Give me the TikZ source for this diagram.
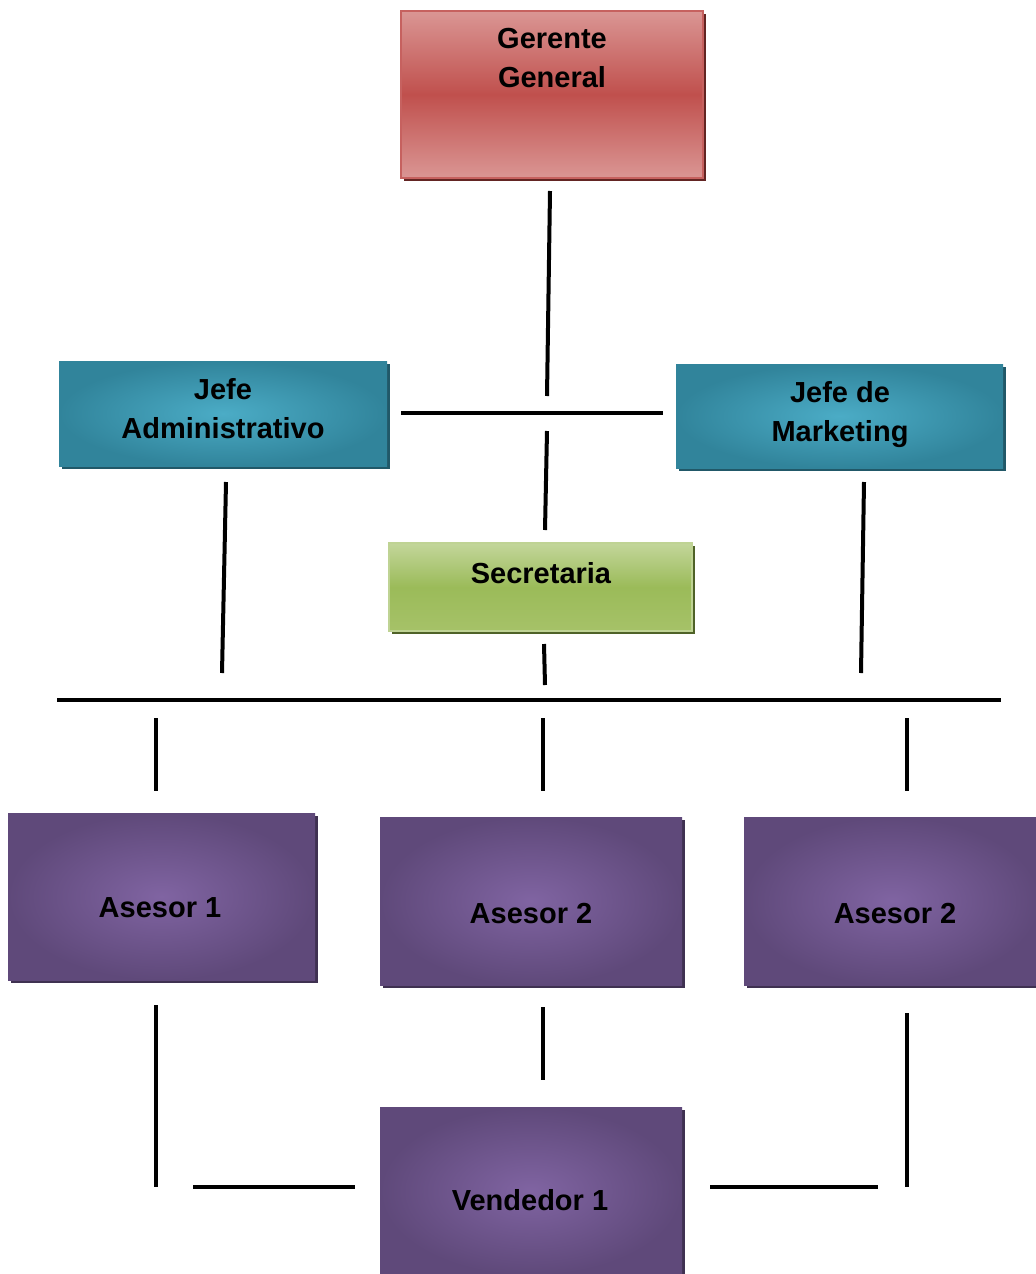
\documentclass[tikz,border=0pt]{standalone}
\usepackage{fontspec}
\setmainfont{Liberation Sans}
\usetikzlibrary{shadows}

\definecolor{redlt}{HTML}{DA9694}
\definecolor{redmid}{HTML}{C0504D}
\definecolor{redsh}{HTML}{632523}
\definecolor{teallt}{HTML}{4BACC6}
\definecolor{tealdk}{HTML}{31849B}
\definecolor{tealsh}{HTML}{215868}
\definecolor{greenlt}{HTML}{C3D69B}
\definecolor{greenmid}{HTML}{9BBB59}
\definecolor{greenbot}{HTML}{A6C268}
\definecolor{greensh}{HTML}{4F6228}
\definecolor{purplt}{HTML}{8064A2}
\definecolor{purpdk}{HTML}{5F497A}
\definecolor{purpsh}{HTML}{3F3151}

\begin{document}
\begin{tikzpicture}[x=0.5pt,y=-0.5pt,
  box/.style={rectangle, inner sep=0pt},
  redbox/.style={box, top color=redlt, bottom color=redlt, middle color=redmid,
    draw=redmid!90!white, line width=1pt,
    drop shadow={shadow xshift=1.5pt, shadow yshift=-1.5pt, fill=redsh, opacity=1}},
  tealbox/.style={box, inner color=teallt, outer color=tealdk,
    drop shadow={shadow xshift=1.5pt, shadow yshift=-1.5pt, fill=tealsh, opacity=1}},
  greenbox/.style={box, top color=greenlt, bottom color=greenbot, middle color=greenmid,
    draw=greenlt!90!greenmid, line width=1pt,
    drop shadow={shadow xshift=1.5pt, shadow yshift=-1.5pt, fill=greensh, opacity=1}},
  purpbox/.style={box, inner color=purplt, outer color=purpdk,
    drop shadow={shadow xshift=1.5pt, shadow yshift=-1.5pt, fill=purpsh, opacity=1}},
  txt/.style={font=\fontsize{14.5}{19.5}\selectfont\bfseries, align=center,
    inner sep=0pt, anchor=north},
  conn/.style={line width=2pt}]

\useasboundingbox (0,0) rectangle (1035,1274);

% Boxes
\node[redbox, minimum width=151pt, minimum height=83.5pt] (gerente) at (552,94.5) {};
\node[tealbox, minimum width=164pt, minimum height=52.5pt] (jadmin) at (223,413.5) {};
\node[tealbox, minimum width=163.5pt, minimum height=52pt] (jmarket) at (839.5,416) {};
\node[greenbox, minimum width=151.5pt, minimum height=44pt] (secre) at (540.5,587) {};
\node[purpbox, minimum width=153.5pt, minimum height=83.5pt] (asesorA) at (161.5,896.5) {};
\node[purpbox, minimum width=151pt, minimum height=84pt] (asesorB) at (531,901) {};
\node[purpbox, minimum width=148pt, minimum height=84pt] (asesorC) at (892,901) {};
\node[purpbox, minimum width=151pt, minimum height=84pt] (vendedor) at (531,1191) {};

% Labels
\node[txt] (tgerente) at (552,28) {Gerente\\General};
\node[txt] (tjadmin) at (223,378) {Jefe\\Administrativo};
\node[txt] (tjmarket) at (840,381) {Jefe de\\Marketing};
\node[txt] (tsecre) at (541,562) {Secretaria};
\node[txt] (tasesorA) at (160,897) {Asesor 1};
\node[txt] (tasesorB) at (531,903) {Asesor 2};
\node[txt] (tasesorC) at (895,903) {Asesor 2};
\node[txt] (tvendedor) at (530,1189) {Vendedor 1};

% Line ends
\coordinate (g1) at (550,191);   \coordinate (g2) at (547,396);
\coordinate (h1) at (401,413);   \coordinate (h2) at (663,413);
\coordinate (s1) at (547,431);   \coordinate (s2) at (545,530);
\coordinate (a1) at (226,482);   \coordinate (a2) at (222,673);
\coordinate (m1) at (864,482);   \coordinate (m2) at (861,673);
\coordinate (c1) at (544,644);   \coordinate (c2) at (545,685);
\coordinate (b1) at (57,700);    \coordinate (b2) at (1001,700);
\coordinate (d1) at (156,718);   \coordinate (d2) at (156,791);
\coordinate (e1) at (543,718);   \coordinate (e2) at (543,791);
\coordinate (f1) at (907,718);   \coordinate (f2) at (907,791);
\coordinate (p1) at (156,1005);  \coordinate (p2) at (156,1187);
\coordinate (q1) at (543,1007);  \coordinate (q2) at (543,1080);
\coordinate (r1) at (907,1013);  \coordinate (r2) at (907,1187);
\coordinate (u1) at (193,1187);  \coordinate (u2) at (355,1187);
\coordinate (w1) at (710,1187);  \coordinate (w2) at (878,1187);

% Connectors
\foreach \a/\b in {g1/g2, h1/h2, s1/s2, a1/a2, m1/m2, c1/c2, b1/b2,
                   d1/d2, e1/e2, f1/f2, p1/p2, q1/q2, r1/r2, u1/u2, w1/w2}
  \draw[conn] (\a) -- (\b);

\end{tikzpicture}
\end{document}
